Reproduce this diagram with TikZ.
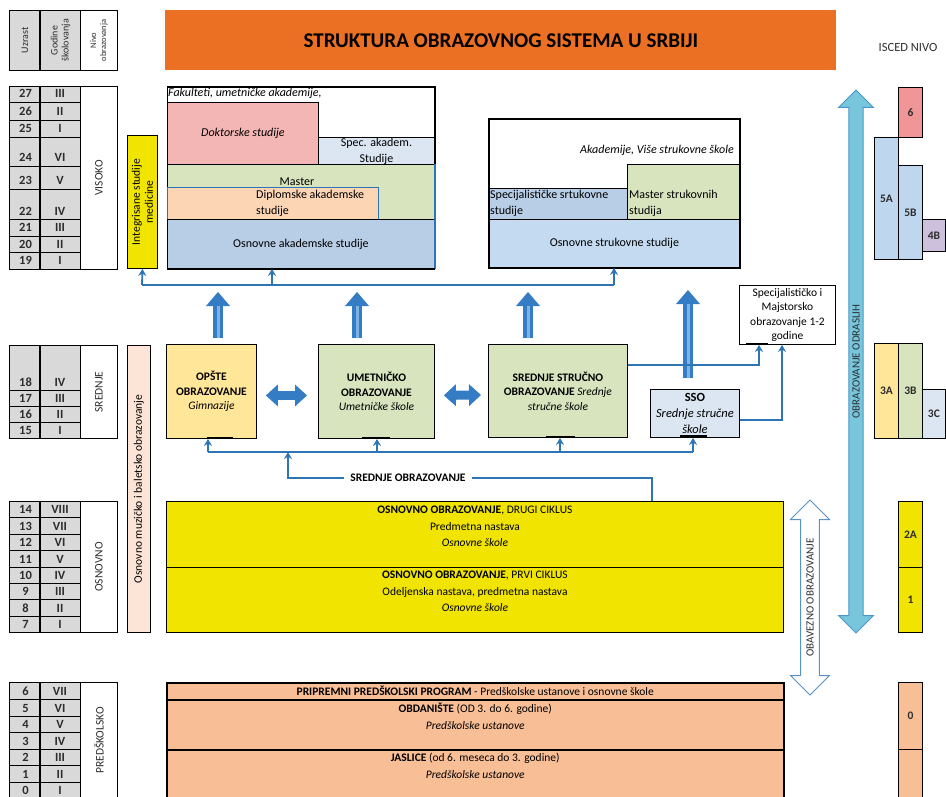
\documentclass[tikz,border=0pt]{standalone}
\usepackage{fontspec}
\setmainfont{Carlito}
\usetikzlibrary{arrows.meta, positioning, shapes.arrows, calc}
\definecolor{titlecolor}{RGB}{236,112,36}
\definecolor{cellgray}{RGB}{217,217,217}
\definecolor{doccolor}{RGB}{243,182,180}
\definecolor{paleblue}{RGB}{220,230,242}
\definecolor{greencolor}{RGB}{215,228,189}
\definecolor{peachcolor}{RGB}{252,213,180}
\definecolor{basecolor}{RGB}{184,206,230}
\definecolor{stdcolor}{RGB}{196,218,240}
\definecolor{palecolor}{RGB}{255,230,153}
\definecolor{yellowcolor}{RGB}{240,228,0}
\definecolor{precolor}{RGB}{248,190,150}
\definecolor{iscedsix}{RGB}{240,150,150}
\definecolor{iscedfive}{RGB}{190,215,238}
\definecolor{iscedfour}{RGB}{205,192,220}
\definecolor{musiccolor}{RGB}{252,228,214}
\definecolor{linecolor}{RGB}{46,117,182}
\definecolor{arrowblue}{RGB}{52,124,196}
\definecolor{arrowlight}{RGB}{125,180,230}
\definecolor{adultcolor}{RGB}{120,198,220}
\definecolor{adultline}{RGB}{75,150,200}
\definecolor{textgray}{RGB}{45,45,45}
\newcommand{\fsz}[2]{\fontsize{#1}{#2}\selectfont}
\tikzset{
  blk/.style={draw, anchor=north west, inner sep=1pt, align=center, line width=0.9pt},
  dim/.style 2 args={minimum width=#1pt, minimum height=#2pt},
  cell/.style={blk, fill=cellgray},
  celltxt/.style={anchor=base, inner sep=0pt, font=\fsz{12.5}{14}\bfseries, text=textgray},
  rot/.style={rotate=90, align=center, inner sep=0pt, text=textgray, font=\fsz{11.5}{13}},
  isc/.style={blk, font=\fsz{11.5}{13}\bfseries, text=textgray},
  txt/.style={inner sep=1pt, align=center},
  mid/.style={blk, font=\fsz{11.5}{14.5}},
  conn/.style={draw=linecolor, line width=1.8pt},
  connarr/.style={conn, -{Stealth[length=7pt, width=8pt]}},
  bigarr/.style={draw=arrowblue, line width=10pt, -{Triangle[length=14pt, width=24pt, line width=0pt]}},
  bighl/.style={draw=arrowlight, line width=3pt},
  bothbig/.style={draw=arrowblue, line width=9pt, {Triangle[length=12pt, width=22pt, line width=0pt]}-{Triangle[length=12pt, width=22pt, line width=0pt]}},
  bar/.style={line width=2pt},
}

\begin{document}
\begin{tikzpicture}[x=1pt, y=-1pt, font=\fsz{12}{15}]
  \useasboundingbox (0,0) rectangle (946,797);

  % naslov
  \node[blk, draw=none, fill=titlecolor, dim={671}{60}, font=\fsz{21}{25}\bfseries] (title) at (165,10) {STRUKTURA OBRAZOVNOG SISTEMA U SRBIJI};
  \node[font=\fsz{12.5}{14}, text=textgray] (isced) at (908,47) {ISCED NIVO};

  % zaglavlje tabele
  \node[cell, dim={31}{60}] (hage) at (9,10) {};
  \node[cell, dim={40}{60}] (hyear) at (40,10) {};
  \node[blk, dim={37}{60}] (hlevel) at (80,10) {};
  \node[rot, font=\fsz{10}{11}] (hagetxt) at (hage.center) {Uzrast};
  \node[rot, font=\fsz{10}{11}] (hyeartxt) at (hyear.center) {Godine\\školovanja};
  \node[rot, font=\fsz{8.5}{10}] (hleveltxt) at (hlevel.center) {Nivo\\obrazovanja};

  % uzrast i godine
  \foreach \n/\r/\ya/\yb in {27/III/86/102, 26/II/102/120, 25/I/120/137, 24/VI/137/166, 23/V/166/189,
      22/IV/189/219, 21/III/219/236, 20/II/236/252, 19/I/252/269,
      18/IV/345/390, 17/III/390/406, 16/II/406/422, 15/I/422/438,
      14/VIII/501/517, 13/VII/517/534, 12/VI/534/550, 11/V/550/567, 10/IV/567/583, 9/III/583/599, 8/II/599/616, 7/I/616/632,
      6/VII/682/699, 5/VI/699/716, 4/V/716/732, 3/IV/732/749, 2/III/749/765, 1/II/765/782, 0/I/782/798}{
    \pgfmathsetmacro{\hh}{\yb-\ya}
    \node[cell, dim={31}{\hh}] (age\n) at (9,\ya) {};
    \node[cell, dim={40}{\hh}] (yr\n) at (40,\ya) {};
    \node[celltxt] (agetxt\n) at (25.5,\yb-4) {\n};
    \node[celltxt] (yrtxt\n) at (60,\yb-4) {\r};
  }
  \foreach \ya/\yb in {10/70, 86/269, 345/438, 501/632, 682/798}
    \draw[line width=1.8pt] (40,\ya) -- (40,\yb);

  % nivoi
  \node[blk, dim={37}{183}] (visoko) at (80,86) {};
  \node[blk, dim={37}{93}] (srednje) at (80,345) {};
  \node[blk, dim={37}{131}] (osnovno) at (80,501) {};
  \node[blk, dim={37}{116}] (predsk) at (80,682) {};
  \node[rot] (visokotxt) at (visoko.center) {VISOKO};
  \node[rot] (srednjetxt) at (srednje.center) {SREDNJE};
  \node[rot] (osnovnotxt) at (osnovno.center) {OSNOVNO};
  \node[rot] (predsktxt) at (predsk.center) {PREDŠKOLSKO};

  \node[blk, fill=yellowcolor, dim={30}{133}] (integ) at (127,135) {};
  \node[rot, text=black] (integtxt) at (integ.center) {Integrisane studije\\medicine};
  \node[blk, fill=musiccolor, dim={23}{287}] (muz) at (127,345) {};
  \node[rot, text=black] (muztxt) at (muz.center) {Osnovno muzičko i baletsko obrazovanje};

  % visoko akademsko
  \node[blk, dim={267}{181}] (akad) at (167,87) {};
  \node[txt, anchor=north west] (fak) at (167,87) {\textit{Fakulteti, umetničke akademije,}};
  \node[blk, fill=doccolor, dim={151}{62}] (dokt) at (167,102) {\textit{Doktorske studije}};
  \node[blk, fill=paleblue, dim={116}{27}, font=\fsz{12}{16}] (specak) at (318,137) {Spec. akadem.\\Studije};
  \node[blk, fill=greencolor, dim={267}{55}] (mast) at (167,164) {};
  \node[txt] (masttxt) at (297,182) {Master};
  \node[blk, fill=peachcolor, draw=linecolor, dim={211}{32}] (dipl) at (167,187) {};
  \node[txt, anchor=west, align=left, font=\fsz{12}{16}] (dipltxt) at (255,203) {Diplomske akademske\\studije};
  \node[blk, fill=basecolor, dim={267}{49}] (oak) at (167,219) {Osnovne akademske studije};
  \draw[linecolor, line width=1.2pt] (mast.north east) -- (oak.south east);
  \draw[line width=1.2pt] (akad.north west) -- (akad.north east) -- (mast.north east) (oak.south east) -- (akad.south west) -- cycle;
  \draw[bar] (258,269) -- (285,269);

  % visoko strukovno
  \node[blk, dim={250}{148}] (struk) at (489,119) {};
  \node[txt, anchor=east] (struktxt) at (735,150) {\textit{Akademije, Više strukovne škole}};
  \node[blk, fill=greencolor, dim={112}{55}] (mss) at (627,164) {};
  \node[txt, anchor=west, align=left, font=\fsz{12}{16}] (msstxt) at (628,203) {Master strukovnih\\studija};
  \node[blk, fill=basecolor, dim={138}{31}] (sss) at (489,188) {};
  \node[txt, anchor=west, align=left, font=\fsz{12}{16}] (ssstxt) at (489,203) {Specijalističke srtukovne\\studije};
  \node[blk, fill=stdcolor, dim={250}{48}] (oss) at (489,219) {Osnovne strukovne studije};
  \draw[line width=1.2pt] (struk.north west) rectangle (struk.south east);
  \draw[bar] (600,268) -- (626,268);

  % veze ka visokom obrazovanju
  \coordinate (topl) at (142,285);
  \coordinate (topm) at (272,285);
  \coordinate (topr) at (614,285);
  \draw[conn] (topl) -- (topr);
  \draw[connarr] (topl) -- (integ.south);
  \draw[connarr] (topm) -- (topm |- akad.south);
  \draw[connarr] (topr) -- (topr |- struk.south);

  % srednje obrazovanje
  \node[mid, fill=palecolor, dim={90}{94}] (ops) at (166,344) {\textbf{OPŠTE}\\\textbf{OBRAZOVANJE}\\\textit{Gimnazije}};
  \node[mid, fill=greencolor, dim={116}{94}] (umet) at (318,344) {\textbf{UMETNIČKO}\\\textbf{OBRAZOVANJE}\\\textit{Umetničke škole}};
  \node[mid, fill=greencolor, dim={139}{93}] (ssr) at (488,344) {\textbf{SREDNJE STRUČNO}\\\textbf{OBRAZOVANJE} \textit{Srednje}\\\textit{stručne škole}};
  \node[blk, fill=paleblue, dim={89}{48}, font=\fsz{12.5}{16}] (sso) at (650,389) {\textbf{SSO}\\\textit{Srednje stručne}\\\textit{škole}};
  \node[mid, dim={96}{59}] (majst) at (739,285) {Specijalističko i\\Majstorsko\\obrazovanje 1-2\\godine};
  \draw[bar] (207,438) -- (233,438);
  \draw[bar] (362,438) -- (390,438);
  \draw[bar] (546,437) -- (575,437);
  \draw[bar] (746,344) -- (768,344);
  \draw[line width=1.2pt] (680,436) -- (707,436);

  % debele strelice
  \coordinate (upa) at (218,292);
  \coordinate (upb) at (357,292);
  \coordinate (upc) at (528,292);
  \coordinate (upd) at (688,290);
  \draw[bigarr, shorten <=6pt] (upa |- ops.north) -- (upa);
  \draw[bigarr, shorten <=6pt] (upb |- umet.north) -- (upb);
  \draw[bigarr, shorten <=6pt] (upc |- ssr.north) -- (upc);
  \draw[bigarr, shorten <=11pt] (upd |- sso.north) -- (upd);
  \draw[bighl, shorten <=6pt, shorten >=14pt] (upa |- ops.north) -- (upa);
  \draw[bighl, shorten <=6pt, shorten >=14pt] (upb |- umet.north) -- (upb);
  \draw[bighl, shorten <=6pt, shorten >=14pt] (upc |- ssr.north) -- (upc);
  \draw[bighl, shorten <=11pt, shorten >=14pt] (upd |- sso.north) -- (upd);
  \draw[bothbig, shorten <=9pt, shorten >=11pt] ($(ops.east)+(0,4)$) -- ($(umet.west)+(0,4)$);
  \draw[bothbig, shorten <=9pt, shorten >=7pt] ($(umet.east)+(0,4)$) -- ($(ssr.west)+(0,4)$);

  % veze ka specijalistickom
  \coordinate (mjl) at (759,365);
  \coordinate (mjr) at (782,420);
  \draw[connarr] (ssr.east |- mjl) -| (mjl |- majst.south);
  \draw[connarr] (sso.east |- mjr) -| (mjr |- majst.south);

  % veze ka srednjem
  \coordinate (busl) at (208,452);
  \coordinate (busu) at (377,452);
  \coordinate (buss) at (560,452);
  \coordinate (busr) at (693,452);
  \coordinate (busm) at (288,452);
  \coordinate (osup) at (652,501);
  \draw[conn] (busl) -- (busr);
  \draw[connarr] (busl) -- (busl |- ops.south);
  \draw[connarr] (busu) -- (busu |- umet.south);
  \draw[connarr] (buss) -- (buss |- ssr.south);
  \draw[connarr] (busr) -- (busr |- sso.south);
  \node[font=\fsz{11.5}{13}\bfseries, inner sep=6pt] (srlab) at (408,478) {SREDNJE OBRAZOVANJE};
  \draw[conn] (osup) |- (srlab.east);
  \draw[connarr] (srlab.west) -| (busm);

  % osnovno obrazovanje
  \node[blk, fill=yellowcolor, dim={617}{66}] (osn2) at (166,501) {};
  \node[blk, fill=yellowcolor, dim={617}{65}] (osn1) at (166,567) {};
  \node[txt, anchor=north, font=\fsz{11.5}{16.5}] (osn2txt) at ($(osn2.north)+(0,4)$) {\textbf{OSNOVNO OBRAZOVANJE}, DRUGI CIKLUS\\Predmetna nastava\\\textit{Osnovne škole}};
  \node[txt, anchor=north, font=\fsz{11.5}{16.5}] (osn1txt) at ($(osn1.north)+(0,3)$) {\textbf{OSNOVNO OBRAZOVANJE}, PRVI CIKLUS\\Odeljenska nastava, predmetna nastava\\\textit{Osnovne škole}};

  % predskolsko
  \node[blk, fill=precolor, dim={617}{17}, line width=1.5pt, font=\fsz{11.5}{13}] (prip) at (166,682) {\textbf{PRIPREMNI PREDŠKOLSKI PROGRAM} - Predškolske ustanove i osnovne škole};
  \node[blk, fill=precolor, dim={617}{51}, line width=1.5pt] (obd) at (166,699) {};
  \node[blk, fill=precolor, dim={617}{50}, line width=1.5pt] (jas) at (166,749) {};
  \node[txt, anchor=north, font=\fsz{11.5}{16.5}] (obdtxt) at ($(obd.north)+(0,3)$) {\textbf{OBDANIŠTE} (OD 3. do 6. godine)\\\textit{Predškolske ustanove}};
  \node[txt, anchor=north, font=\fsz{11.5}{16.5}] (jastxt) at ($(jas.north)+(0,3)$) {\textbf{JASLICE} (od 6. meseca do 3. godine)\\\textit{Predškolske ustanove}};

  % ISCED
  \node[isc, fill=iscedsix, dim={24}{50}] (isix) at (898,87) {6};
  \node[isc, fill=iscedfive, dim={24}{122}] (ifivea) at (874,137) {5A};
  \node[isc, fill=iscedfive, dim={24}{94}] (ifiveb) at (898,165) {5B};
  \node[isc, fill=iscedfour, dim={23}{32}] (ifourb) at (922,219) {4B};
  \node[isc, fill=palecolor, dim={24}{95}] (ithreea) at (874,343) {3A};
  \node[isc, fill=greencolor, dim={24}{95}] (ithreeb) at (898,343) {3B};
  \node[isc, fill=paleblue, dim={23}{49}] (ithreec) at (922,389) {3C};
  \node[isc, fill=yellowcolor, dim={24}{66}] (itwoa) at (898,501) {2A};
  \node[isc, fill=yellowcolor, dim={24}{65}] (ione) at (898,567) {1};
  \node[isc, fill=precolor, dim={24}{67}] (izero) at (898,682) {0};
  \node[isc, fill=precolor, dim={24}{50}] (iempty) at (898,749) {};

  % obrazovanje odraslih, obavezno
  \node[double arrow, rotate=90, fill=adultcolor, draw=adultline, line width=1pt, minimum height=543pt, minimum width=35pt,
        double arrow head extend=9.5pt, inner xsep=2pt, inner ysep=2.5pt, font=\fsz{11}{12}, text=textgray] (adult) at (856,361.5) {OBRAZOVANJE ODRASLIH};
  \node[double arrow, rotate=90, fill=white, draw=linecolor!80, line width=1pt, minimum height=195pt, minimum width=39pt,
        double arrow head extend=9.5pt, inner xsep=2pt, inner ysep=4.5pt, font=\fsz{11}{12}, text=textgray] (obav) at (810,597.5) {OBAVEZNO OBRAZOVANJE};
\end{tikzpicture}
\end{document}
